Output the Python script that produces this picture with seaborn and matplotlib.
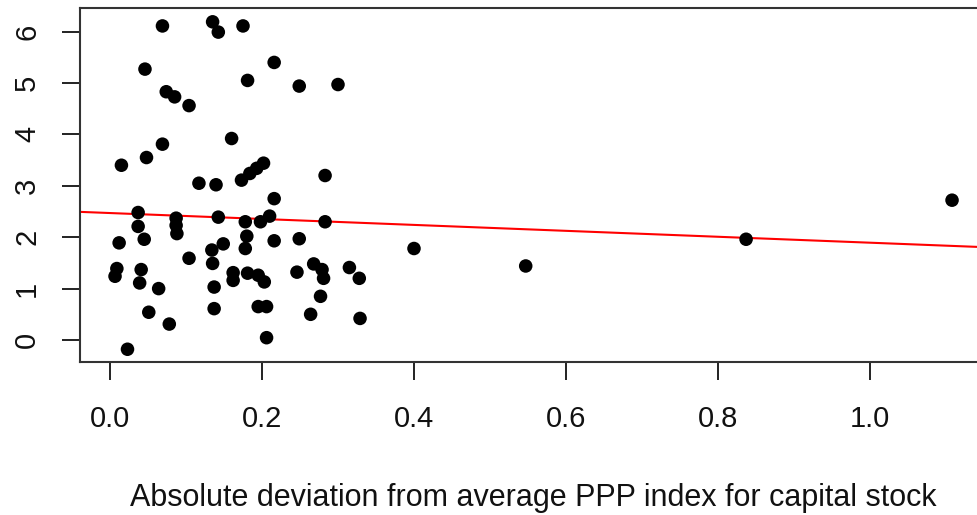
import matplotlib
matplotlib.use("Agg")
import matplotlib.pyplot as plt
import seaborn as sns
import pandas as pd

# Absolute deviation from average PPP index (x) and response (y)
dev = [0.069, 0.135, 0.1425, 0.175, 0.046, 0.216, 0.181, 0.249, 0.300, 0.074,
       0.085, 0.104, 0.160, 0.069, 0.048, 0.015, 0.283, 0.117, 0.1395, 0.173,
       0.184, 0.193, 0.202, 0.216, 0.037, 0.087, 0.1425, 0.178, 0.198, 0.210,
       0.283, 0.037, 0.087, 0.088, 0.045, 0.012, 0.180, 0.216, 0.249, 0.178,
       0.149, 0.134, 0.135, 0.104, 0.009, 0.0066, 0.041, 0.039, 0.064, 0.162,
       0.162, 0.181, 0.195, 0.203, 0.246, 0.268, 0.279, 0.281, 0.315, 0.328,
       0.137, 0.277, 0.051, 0.137, 0.195, 0.206, 0.264, 0.078, 0.329, 0.206,
       0.023, 0.40, 0.547, 0.837, 1.108]
val = [6.11, 6.19, 5.99, 6.11, 5.27, 5.40, 5.05, 4.94, 4.97, 4.83,
       4.73, 4.56, 3.92, 3.81, 3.55, 3.40, 3.20, 3.05, 3.02, 3.11,
       3.24, 3.34, 3.44, 2.75, 2.48, 2.37, 2.39, 2.30, 2.30, 2.41,
       2.30, 2.21, 2.23, 2.07, 1.96, 1.89, 2.02, 1.93, 1.97, 1.78,
       1.87, 1.75, 1.49, 1.59, 1.39, 1.24, 1.37, 1.11, 1.00, 1.31,
       1.16, 1.30, 1.26, 1.13, 1.32, 1.48, 1.37, 1.20, 1.41, 1.20,
       1.03, 0.85, 0.54, 0.61, 0.65, 0.65, 0.50, 0.31, 0.42, 0.045,
       -0.18, 1.78, 1.44, 1.96, 2.72]

# fitted line (abline)
fit_intercept = 2.47
fit_slope = -0.577

x_ticks = [0.0, 0.2, 0.4, 0.6, 0.8, 1.0]
x_ticklabels = ["0.0", "0.2", "0.4", "0.6", "0.8", "1.0"]
y_ticks = [0, 1, 2, 3, 4, 5, 6]
x_label = "Absolute deviation from average PPP index for capital stock"

sns.set_style("white")
plt.rcParams['font.family'] = ['Liberation Sans', 'DejaVu Sans']

df = pd.DataFrame({"dev": dev, "val": val})

W, H = 977, 515
fig = plt.figure(figsize=(W / 100, H / 100), dpi=100)
ax = fig.add_axes([80 / W, (H - 362) / H, 907 / W, 354 / H])

sns.scatterplot(data=df, x="dev", y="val", ax=ax, color="black", s=95,
                edgecolor="none", linewidth=0, zorder=3)
ax.axline((0, fit_intercept), slope=fit_slope, color="#ff0000", lw=1.5, zorder=2)

ax.set_xlim(-0.0395, 1.154)
ax.set_ylim(-0.428, 6.459)
ax.set_xticks(x_ticks)
ax.set_xticklabels(x_ticklabels)
ax.set_yticks(y_ticks)
ax.set_yticklabels([str(v) for v in y_ticks], rotation=90, va="center")
ax.set_xlabel(x_label, fontsize=22, labelpad=36, color="#111111")
ax.set_ylabel("")

ax.tick_params(axis="both", which="major", direction="out", length=13,
               width=1.4, color="#222222", labelsize=21, labelcolor="#111111",
               left=True, bottom=True)
ax.tick_params(axis="x", pad=18)
ax.tick_params(axis="y", pad=15)
for sp in ax.spines.values():
    sp.set_visible(True)
    sp.set_color("#333333")
    sp.set_linewidth(1.5)

fig.savefig("out.png", dpi=100)
